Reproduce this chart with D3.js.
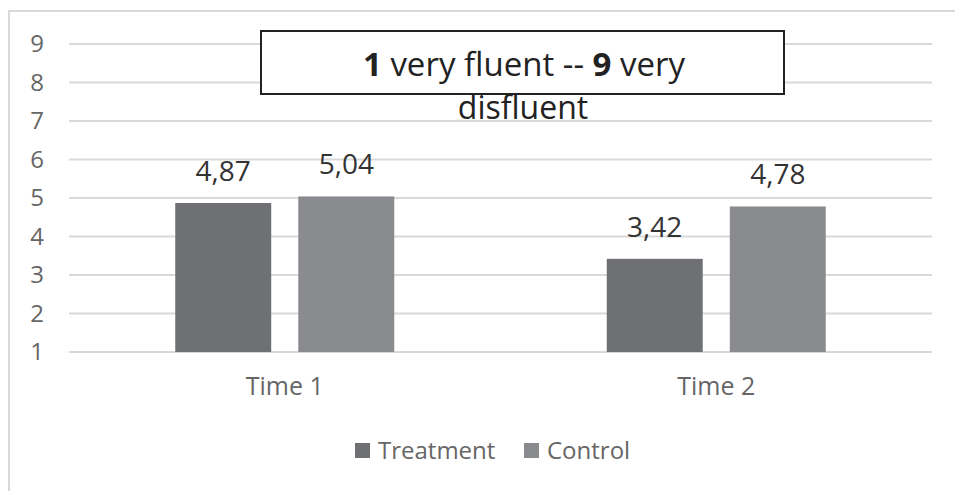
<!DOCTYPE html>
<html>
<head>
<meta charset="utf-8">
<script src="https://cdn.jsdelivr.net/npm/d3@7"></script>
<style>
  body { margin: 0; background: #fff; }
  svg { display: block; font-family: "Open Sans", sans-serif; }
</style>
</head>
<body>
<svg id="chart"></svg>
<script>
// chart data
var categories = ["Time 1", "Time 2"];
var seriesNames = ["Treatment", "Control"];
var treatment = [4.87, 3.42];
var control = [5.04, 4.78];
var yTicks = [1, 2, 3, 4, 5, 6, 7, 8, 9];
var colors = ["#6f7074", "#8a8b8f"];

var width = 955, height = 491;
var margin = {top: 44, right: 23, bottom: 139, left: 69};

var svg = d3.select("#chart").attr("width", width).attr("height", height);

// outer frame of the chart area
svg.append("path")
    .attr("d", "M9,491 V11 H955")
    .attr("fill", "none")
    .attr("stroke", "#d9d9d9")
    .attr("stroke-width", 2);

var x0 = d3.scaleBand()
    .domain(categories)
    .range([margin.left, width - margin.right]);

var x1 = d3.scaleBand()
    .domain(seriesNames)
    .range([0, 219])
    .paddingInner(0.22);

var y = d3.scaleLinear()
    .domain([1, 9])
    .range([height - margin.bottom, margin.top]);

// gridlines
svg.append("g")
    .selectAll("line")
    .data(yTicks)
    .enter().append("line")
    .attr("x1", margin.left)
    .attr("x2", width - margin.right)
    .attr("y1", function (d) { return y(d); })
    .attr("y2", function (d) { return y(d); })
    .attr("stroke", "#d9d9d9")
    .attr("stroke-width", 2);

// y axis labels
var yAxis = d3.axisLeft(y).tickValues(yTicks).tickSize(0).tickPadding(0);
var gy = svg.append("g")
    .attr("transform", "translate(44,0)")
    .call(yAxis);
gy.select(".domain").remove();
gy.selectAll("text")
    .attr("font-family", "Open Sans, sans-serif")
    .attr("font-size", 24)
    .attr("fill", "#666");

var rows = categories.map(function (c, i) {
    return {cat: c, values: [
        {name: seriesNames[0], value: treatment[i]},
        {name: seriesNames[1], value: control[i]}
    ]};
});

var groups = svg.append("g")
    .selectAll("g")
    .data(rows)
    .enter().append("g")
    .attr("transform", function (d) {
        return "translate(" + (x0(d.cat) + (x0.bandwidth() - 219) / 2) + ",0)";
    });

groups.selectAll("rect")
    .data(function (d) { return d.values; })
    .enter().append("rect")
    .attr("x", function (d) { return x1(d.name); })
    .attr("width", x1.bandwidth())
    .attr("y", function (d) { return y(d.value); })
    .attr("height", function (d) { return y(1) - y(d.value); })
    .attr("fill", function (d, i) { return colors[i]; });

var fmt = d3.format(".2f");
groups.selectAll("text")
    .data(function (d) { return d.values; })
    .enter().append("text")
    .attr("x", function (d) { return x1(d.name) + x1.bandwidth() / 2; })
    .attr("y", function (d) { return y(d.value) - 22; })
    .attr("text-anchor", "middle")
    .attr("font-size", 28)
    .attr("fill", "#333")
    .text(function (d) { return fmt(d.value).replace(".", ","); });

// category labels
var xAxis = d3.axisBottom(x0).tickSize(0).tickPadding(0);
var gx = svg.append("g")
    .attr("transform", "translate(0,377)")
    .call(xAxis);
gx.select(".domain").remove();
gx.selectAll("text")
    .attr("font-family", "Open Sans, sans-serif")
    .attr("font-size", 25)
    .attr("fill", "#666");

// legend
var legendX = [355, 524];
var legend = svg.append("g")
    .selectAll("g")
    .data(seriesNames)
    .enter().append("g")
    .attr("transform", function (d, i) { return "translate(" + legendX[i] + ",443)"; });
legend.append("rect")
    .attr("width", 15)
    .attr("height", 15)
    .attr("fill", function (d, i) { return colors[i]; });
legend.append("text")
    .attr("x", 23)
    .attr("y", 16)
    .attr("font-size", 24)
    .attr("fill", "#666")
    .text(function (d) { return d; });

// title box
svg.append("rect")
    .attr("x", 261)
    .attr("y", 31)
    .attr("width", 523)
    .attr("height", 63)
    .attr("fill", "#fff")
    .attr("stroke", "#222")
    .attr("stroke-width", 2);

var title = svg.append("text")
    .attr("x", 524)
    .attr("y", 76)
    .attr("text-anchor", "middle")
    .attr("font-size", 33)
    .attr("fill", "#222");
title.append("tspan").attr("font-weight", "bold").text("1");
title.append("tspan").text(" very fluent -- ");
title.append("tspan").attr("font-weight", "bold").text("9");
title.append("tspan").text(" very");

svg.append("text")
    .attr("x", 523)
    .attr("y", 119)
    .attr("text-anchor", "middle")
    .attr("font-size", 32)
    .attr("fill", "#222")
    .text("disfluent");
</script>
</body>
</html>
